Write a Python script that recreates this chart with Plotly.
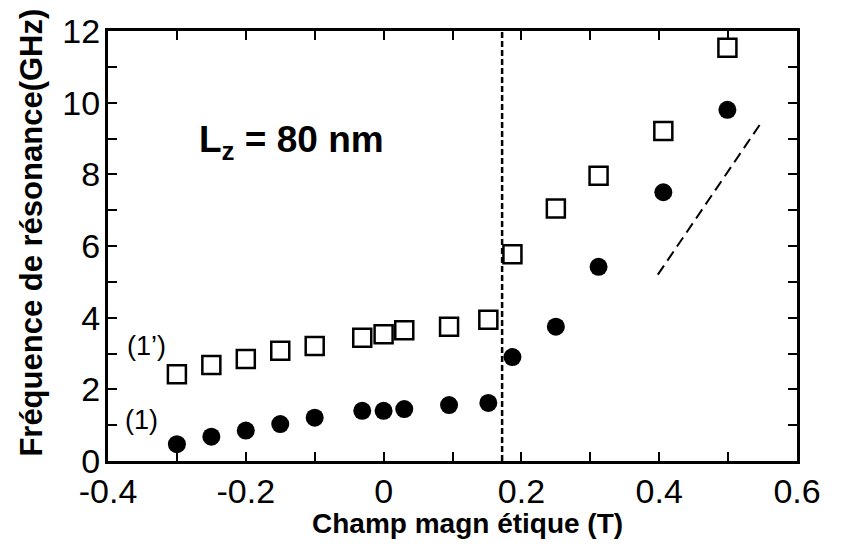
import plotly.graph_objects as go

# Data
field = [-0.30, -0.25, -0.20, -0.15, -0.10, -0.031, 0.0, 0.030, 0.095, 0.152, 0.187, 0.250, 0.312, 0.406, 0.499]
freq_mode1 = [0.47, 0.68, 0.85, 1.03, 1.21, 1.40, 1.40, 1.45, 1.56, 1.62, 2.90, 3.75, 5.42, 7.50, 9.80]
freq_mode1p = [2.42, 2.68, 2.85, 3.08, 3.21, 3.44, 3.54, 3.65, 3.75, 3.94, 5.77, 7.05, 7.96, 9.21, 11.53]

vline_x = [0.172, 0.172]
vline_y = [0, 12]
slope_x = [0.398, 0.549]
slope_y = [5.20, 9.47]

x_tickvals = [-0.4, -0.3, -0.2, -0.1, 0.0, 0.1, 0.2, 0.3, 0.4, 0.5, 0.6]
x_ticktext = ["-0.4", "", "-0.2", "", "0", "", "0.2", "", "0.4", "", "0.6"]
y_tickvals = [0, 1, 2, 3, 4, 5, 6, 7, 8, 9, 10, 11, 12]
y_ticktext = ["0", "", "2", "", "4", "", "6", "", "8", "", "10", "", "12"]

FONT = "Arial, Liberation Sans, sans-serif"

fig = go.Figure()

fig.add_trace(go.Scatter(x=vline_x, y=vline_y, mode="lines",
                         line=dict(color="black", width=2.5, dash="6px,3px"),
                         showlegend=False, hoverinfo="skip"))
fig.add_trace(go.Scatter(x=slope_x, y=slope_y, mode="lines",
                         line=dict(color="black", width=2, dash="11px,6px"),
                         showlegend=False, hoverinfo="skip"))
fig.add_trace(go.Scatter(x=field, y=freq_mode1p, mode="markers", name="(1')",
                         marker=dict(symbol="square-open", size=18, color="black",
                                     line=dict(width=2.5, color="black")),
                         showlegend=False))
fig.add_trace(go.Scatter(x=field, y=freq_mode1, mode="markers", name="(1)",
                         marker=dict(symbol="circle", size=18, color="black"),
                         showlegend=False))

axis_common = dict(
    showline=True, linecolor="black", linewidth=3, mirror="ticks",
    ticks="inside", ticklen=9, tickwidth=2, tickcolor="black",
    showgrid=False, zeroline=False,
    tickfont=dict(family=FONT, size=34, color="black"),
)

fig.update_xaxes(range=[-0.4, 0.6], tickmode="array", tickvals=x_tickvals,
                 ticktext=x_ticktext, ticklabelstandoff=-2, **axis_common)
fig.update_yaxes(range=[0, 12], tickmode="array", tickvals=y_tickvals,
                 ticktext=y_ticktext, ticklabelstandoff=-2, **axis_common)

fig.update_layout(
    width=848, height=550,
    margin=dict(l=108, r=51, t=31, b=89),
    plot_bgcolor="white", paper_bgcolor="white",
    font=dict(family=FONT, color="black"),
    annotations=[
        dict(text="<b>Fréquence de résonance(GHz)</b>", xref="paper", yref="paper",
             x=-0.111, y=0.53, xanchor="center", yanchor="middle", textangle=-90,
             showarrow=False, font=dict(size=31, family=FONT, color="black")),
        dict(text="<b>Champ magn étique (T)</b>", xref="paper", yref="paper",
             x=0.522, y=-0.146, xanchor="center", yanchor="middle",
             showarrow=False, font=dict(size=28, family=FONT, color="black")),
        dict(text="<b>L<sub>z</sub> = 80 nm</b>", xref="x", yref="y",
             x=-0.271, y=8.9, xanchor="left", yanchor="middle",
             showarrow=False, font=dict(size=37, family=FONT, color="black")),
        dict(text="(1’)", xref="x", yref="y", x=-0.3435, y=3.21,
             xanchor="center", yanchor="middle", showarrow=False,
             font=dict(size=27, family=FONT, color="black")),
        dict(text="(1)", xref="x", yref="y", x=-0.351, y=1.14,
             xanchor="center", yanchor="middle", showarrow=False,
             font=dict(size=27, family=FONT, color="black")),
    ],
)

fig.write_html("out.html")
